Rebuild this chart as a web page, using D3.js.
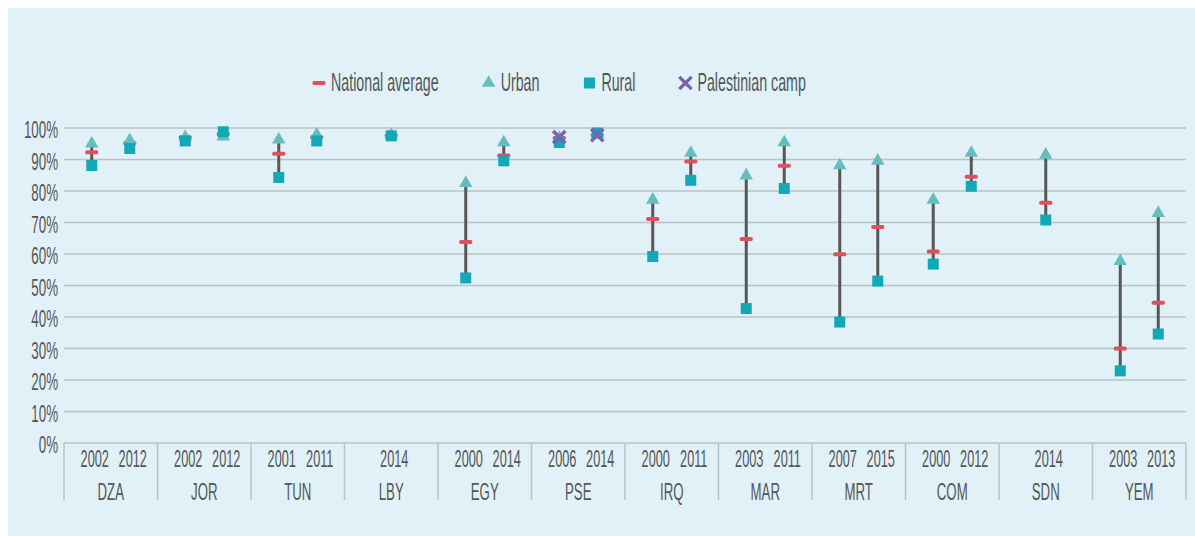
<!DOCTYPE html>
<html>
<head>
<meta charset="utf-8">
<script src="https://cdn.jsdelivr.net/npm/d3@7"></script>
<style>
  html, body { margin: 0; padding: 0; background: #ffffff; }
  svg text { font-family: "Liberation Sans", Arial, sans-serif; fill: #53575a; }
</style>
</head>
<body>
<div id="chart"></div>
<script>
// one entry per survey
const countries = ["DZA", "DZA", "JOR", "JOR", "TUN", "TUN", "LBY", "EGY", "EGY", "PSE", "PSE",
    "IRQ", "IRQ", "MAR", "MAR", "MRT", "MRT", "COM", "COM", "SDN", "YEM", "YEM"];
const years = [2002, 2012, 2002, 2012, 2001, 2011, 2014, 2000, 2014, 2006, 2014,
    2000, 2011, 2003, 2011, 2007, 2015, 2000, 2012, 2014, 2003, 2013];
const urban = [95.0, 96.1, 97.1, 97.3, 96.3, 97.9, 97.8, 82.5, 95.4, 96.8, 98.0,
    77.2, 92.1, 84.9, 95.4, 88.1, 89.6, 77.2, 92.1, 91.5, 57.7, 73.0];
const national = [92.3, 95.2, 97.0, 98.1, 91.8, 97.1, 97.6, 63.8, 91.3, 96.8, 97.8,
    71.1, 89.4, 64.8, 88.0, 59.9, 68.6, 60.8, 84.5, 76.3, 30.0, 44.5];
const rural = [88.1, 93.5, 95.9, 98.8, 84.3, 95.9, 97.5, 52.4, 89.6, 95.4, 98.4,
    59.2, 83.4, 42.7, 80.8, 38.4, 51.4, 56.8, 81.5, 70.8, 22.9, 34.6];
const camp = [null, null, null, null, null, null, null, null, null, 97.1, 97.7,
    null, null, null, null, null, null, null, null, null, null, null];
const yTicks = [0, 10, 20, 30, 40, 50, 60, 70, 80, 90, 100];
const legendLabels = ["National average", "Urban", "Rural", "Palestinian camp"];

const rows = countries.map((c, i) => ({
    country: c, year: years[i], urban: urban[i], national: national[i],
    rural: rural[i], camp: camp[i]
}));

const width = 1195, height = 536;
const margin = { top: 128, right: 9, bottom: 93, left: 64 };
const innerWidth = width - margin.left - margin.right;
const innerHeight = height - margin.top - margin.bottom;

const colors = {
    urban: "#66bdbd", rural: "#12a9b6", national: "#df505d",
    camp: "#7664ae", stem: "#575757", grid: "#b9c3c7", bg: "#e1f1f7"
};

const svg = d3.select("#chart").append("svg")
    .attr("width", width)
    .attr("height", height);

svg.append("rect")
    .attr("x", 8).attr("y", 8)
    .attr("width", width - 8).attr("height", height - 8)
    .attr("fill", colors.bg);

const g = svg.append("g")
    .attr("transform", `translate(${margin.left},${margin.top})`);

const countryList = Array.from(new Set(countries));
const x = d3.scaleBand()
    .domain(countryList)
    .range([0, innerWidth]);

const inner = new Map(countryList.map(c => [c, d3.scalePoint()
    .domain(rows.filter(r => r.country === c).map(r => r.year))
    .range([0, x.bandwidth()])
    .padding(0.73)]));

const xPos = r => x(r.country) + inner.get(r.country)(r.year);

const y = d3.scaleLinear()
    .domain([0, 100])
    .range([innerHeight, 0]);

// condensed look: horizontally scaled labels
function labels(parent, data, px, py, size, k, anchor, txt) {
    parent.append("g")
        .selectAll("g")
        .data(data)
        .join("g")
        .attr("transform", d => `translate(${px(d)},${py(d)}) scale(${k},1)`)
        .append("text")
        .attr("text-anchor", anchor)
        .attr("dominant-baseline", "middle")
        .attr("font-size", size)
        .text(txt);
}

// gridlines
g.append("g")
    .selectAll("line")
    .data(yTicks)
    .join("line")
    .attr("x1", 0).attr("x2", innerWidth)
    .attr("y1", d => y(d)).attr("y2", d => y(d))
    .attr("stroke", colors.grid)
    .attr("stroke-width", 1.5);

labels(g, yTicks, () => -6, d => y(d) + 4, 23, 0.58, "end", d => d + "%");

// category separators
const seps = countryList.map(c => x(c)).concat([innerWidth]);
g.append("g")
    .selectAll("line")
    .data(seps)
    .join("line")
    .attr("x1", d => d).attr("x2", d => d)
    .attr("y1", innerHeight).attr("y2", innerHeight + 57)
    .attr("stroke", colors.grid)
    .attr("stroke-width", 1.5);

labels(g, rows, d => xPos(d) + 3, () => innerHeight + 18, 24.5, 0.52, "middle", d => d.year);
labels(g, countryList, d => x(d) + x.bandwidth() / 2, () => innerHeight + 51, 24.5, 0.54, "middle", d => d);

// stems from rural to urban
g.append("g")
    .selectAll("line")
    .data(rows)
    .join("line")
    .attr("x1", d => xPos(d)).attr("x2", d => xPos(d))
    .attr("y1", d => y(d.rural)).attr("y2", d => y(d.urban))
    .attr("stroke", colors.stem)
    .attr("stroke-width", 3);

const tri = d3.symbol().type(d3.symbolTriangle).size(78);
const dash = { w: 13, h: 4 };
const sq = 11;

g.append("g")
    .selectAll("rect")
    .data(rows)
    .join("rect")
    .attr("x", d => xPos(d) - dash.w / 2)
    .attr("y", d => y(d.national) - dash.h / 2)
    .attr("width", dash.w).attr("height", dash.h)
    .attr("rx", 1.5)
    .attr("fill", colors.national);

g.append("g")
    .selectAll("path")
    .data(rows)
    .join("path")
    .attr("d", tri)
    .attr("transform", d => `translate(${xPos(d)},${y(d.urban)})`)
    .attr("fill", colors.urban);

g.append("g")
    .selectAll("rect")
    .data(rows)
    .join("rect")
    .attr("x", d => xPos(d) - sq / 2)
    .attr("y", d => y(d.rural) - sq / 2)
    .attr("width", sq).attr("height", sq)
    .attr("fill", colors.rural);

const cross = d3.symbol().type(d3.symbolTimes).size(100);
g.append("g")
    .selectAll("path")
    .data(rows.filter(r => r.camp != null))
    .join("path")
    .attr("d", cross)
    .attr("transform", d => `translate(${xPos(d)},${y(d.camp)})`)
    .attr("fill", "none")
    .attr("stroke", colors.camp)
    .attr("stroke-width", 3.5);

// legend
const legend = svg.append("g").attr("transform", "translate(0,83)");
const lk = 0.57;
let lx = 319;
legendLabels.forEach((label, i) => {
    const item = legend.append("g").attr("transform", `translate(${lx},0)`);
    if (i === 0) {
        item.append("rect").attr("x", -6.5).attr("y", -2).attr("width", 13).attr("height", 4)
            .attr("rx", 1.5).attr("fill", colors.national);
    } else if (i === 1) {
        item.append("path").attr("d", tri).attr("fill", colors.urban);
    } else if (i === 2) {
        item.append("rect").attr("x", -sq / 2).attr("y", -sq / 2).attr("width", sq).attr("height", sq)
            .attr("fill", colors.rural);
    } else {
        item.append("path").attr("d", cross).attr("fill", "none")
            .attr("stroke", colors.camp).attr("stroke-width", 3.5);
    }
    const t = item.append("g")
        .attr("transform", `translate(12,1) scale(${lk},1)`)
        .append("text")
        .attr("dominant-baseline", "middle")
        .attr("font-size", 25)
        .text(label);
    lx += 12 + t.node().getComputedTextLength() * lk + 50;
});
</script>
</body>
</html>
